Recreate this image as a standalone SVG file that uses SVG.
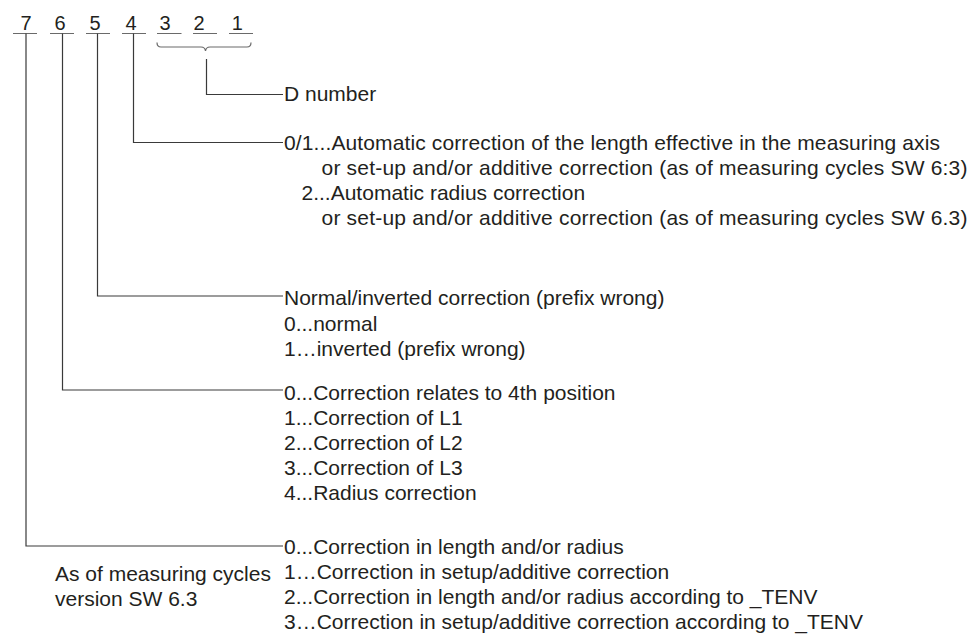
<svg xmlns="http://www.w3.org/2000/svg" width="979" height="635" viewBox="0 0 979 635">
<style>
.t{font-family:"Liberation Sans",Arial,sans-serif;font-size:21px;fill:#231f20}
.d{font-family:"Liberation Sans",Arial,sans-serif;font-size:20px;fill:#231f20;text-anchor:middle}
.ln{fill:none;stroke:#3a3a3a;stroke-width:1.2}
.ul{fill:none;stroke:#6a6a6a;stroke-width:1.2}
</style>
<rect width="979" height="635" fill="#ffffff"/>
<g id="digits">
<text class="d" x="26" y="29.5">7</text>
<text class="d" x="60" y="29.5">6</text>
<text class="d" x="95" y="29.5">5</text>
<text class="d" x="131" y="29.5">4</text>
<text class="d" x="165" y="29.5">3</text>
<text class="d" x="199" y="29.5">2</text>
<text class="d" x="237.4" y="29.5">1</text>
<path class="ul" d="M13,33.5H37M50,33.5H74M86,33.5H110M122,33.5H146M157,33.5H181.5M193,33.5H217M229,33.5H253"/>
<path class="ul" d="M157,42.5Q157,47 161,47H201Q205,47 205.5,51Q206,47 210,47H247Q251,47 251,42.5"/>
</g>
<g id="connectors">
<path class="ln" d="M206.5,59V94.5H283"/>
<path class="ln" d="M133.5,33.5V142.5H283"/>
<path class="ln" d="M97.5,33.5V296H283"/>
<path class="ln" d="M62.5,33.5V390H283"/>
<path class="ln" d="M26,33.5V546H283"/>
</g>
<g id="d-number">
<text class="t" x="284" y="101">D number</text>
</g>
<g id="pos4">
<text class="t" x="284" y="150" textLength="656" lengthAdjust="spacing">0/1...Automatic correction of the length effective in the measuring axis</text>
<text class="t" x="321.5" y="175" textLength="646" lengthAdjust="spacing">or set-up and/or additive correction (as of measuring cycles SW 6:3)</text>
<text class="t" x="301.5" y="200">2...Automatic radius correction</text>
<text class="t" x="321.5" y="225" textLength="646" lengthAdjust="spacing">or set-up and/or additive correction (as of measuring cycles SW 6.3)</text>
</g>
<g id="pos5">
<text class="t" x="284" y="305">Normal/inverted correction (prefix wrong)</text>
<text class="t" x="284" y="331">0...normal</text>
<text class="t" x="284" y="356">1…inverted (prefix wrong)</text>
</g>
<g id="pos6">
<text class="t" x="284" y="400">0...Correction relates to 4th position</text>
<text class="t" x="284" y="425">1...Correction of L1</text>
<text class="t" x="284" y="450">2...Correction of L2</text>
<text class="t" x="284" y="475">3...Correction of L3</text>
<text class="t" x="284" y="500">4...Radius correction</text>
</g>
<g id="pos7">
<text class="t" x="284" y="554">0...Correction in length and/or radius</text>
<text class="t" x="284" y="579">1…Correction in setup/additive correction</text>
<text class="t" x="284" y="604">2...Correction in length and/or radius according to _TENV</text>
<text class="t" x="284" y="629">3…Correction in setup/additive correction according to _TENV</text>
<text class="t" x="55" y="581">As of measuring cycles</text>
<text class="t" x="55" y="606">version SW 6.3</text>
</g>
</svg>
